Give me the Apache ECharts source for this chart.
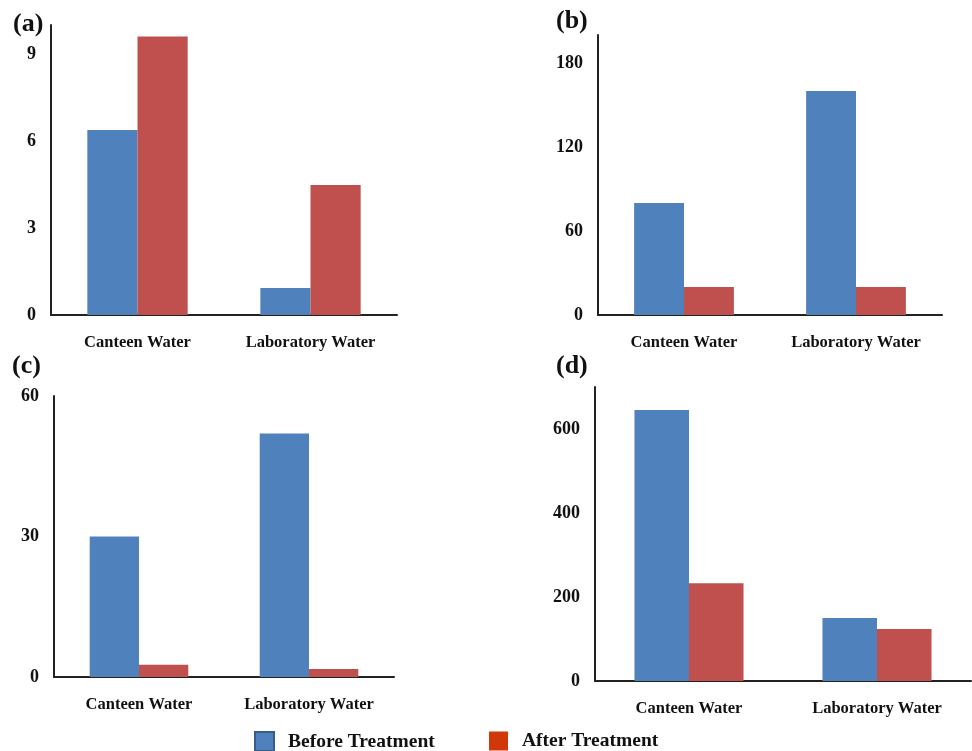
<!DOCTYPE html>
<html><head><meta charset="utf-8">
<script src="https://cdn.jsdelivr.net/npm/echarts@6/dist/echarts.min.js"></script>
<style>html,body{margin:0;padding:0;background:#fff}#c{width:972px;height:751px}</style>
</head><body><div id="c"></div>
<script>
const categories = ['Canteen Water', 'Laboratory Water'];
const beforeA = [6.38, 0.93];
const afterA = [9.6, 4.48];
const beforeB = [80, 160];
const afterB = [20, 20];
const beforeC = [30, 52];
const afterC = [2.6, 1.7];
const beforeD = [645, 150];
const afterD = [233, 124];
const panelLabels = ['(a)', '(b)', '(c)', '(d)'];
const yMax = [10, 200, 60, 700];
const yInterval = [3, 60, 30, 200];

const FONT = '"Liberation Serif","Times New Roman",serif';
const BLUE = '#4F81BD', RED = '#C0504D';
const grids = [
  {left: 51, top: 25, right: 575, bottom: 436},
  {left: 598, top: 35, right: 30, bottom: 436},
  {left: 54, top: 396, right: 578, bottom: 74},
  {left: 595, top: 387, right: 1, bottom: 70}
];
const befores = [beforeA, beforeB, beforeC, beforeD];
const afters = [afterA, afterB, afterC, afterD];
const xAxis = [], yAxis = [], series = [];
for (let i = 0; i < 4; i++) {
  xAxis.push({type: 'category', gridIndex: i, data: categories,
    axisLine: {lineStyle: {color: '#222', width: 2}}, axisTick: {show: false},
    axisLabel: {margin: 19, fontFamily: FONT, fontWeight: 'bold', fontSize: 16.5, color: '#111'}});
  yAxis.push({type: 'value', gridIndex: i, min: 0, max: yMax[i], interval: yInterval[i],
    splitLine: {show: false}, axisTick: {show: false},
    axisLine: {show: true, lineStyle: {color: '#222', width: 2}},
    axisLabel: {margin: 15, fontFamily: FONT, fontWeight: 'bold', fontSize: 18, color: '#111',
      showMaxLabel: yMax[i] % yInterval[i] === 0}});
  series.push({name: 'Before Treatment', type: 'bar', xAxisIndex: i, yAxisIndex: i, data: befores[i],
    barGap: 0, barCategoryGap: '42%', itemStyle: {color: BLUE}});
  series.push({name: 'After Treatment', type: 'bar', xAxisIndex: i, yAxisIndex: i, data: afters[i],
    barGap: 0, barCategoryGap: '42%', itemStyle: {color: RED}});
}
const labelPos = [[13, 11], [556, 8], [12, 353], [556, 353]];
const graphic = panelLabels.map((t, i) => ({type: 'text', left: labelPos[i][0], top: labelPos[i][1],
  style: {text: t, font: 'bold 26px ' + FONT, fill: '#111'}}));
const legendCommon = {top: 731, padding: 0, itemWidth: 19, itemHeight: 19, icon: 'rect',
  textStyle: {fontFamily: FONT, fontWeight: 'bold', fontSize: 19.5, color: '#111', padding: [0, 0, 0, 9]},
  selectedMode: false};
const option = {
  animation: false,
  grid: grids,
  xAxis, yAxis, series, graphic,
  legend: [
    Object.assign({left: 254, data: [{name: 'Before Treatment', itemStyle: {color: BLUE, borderColor: '#385D8A', borderWidth: 2}}]}, legendCommon),
    Object.assign({left: 489, data: [{name: 'After Treatment', itemStyle: {color: '#D0380A'}}]}, legendCommon)
  ]
};
echarts.init(document.getElementById('c')).setOption(option);
</script></body></html>
